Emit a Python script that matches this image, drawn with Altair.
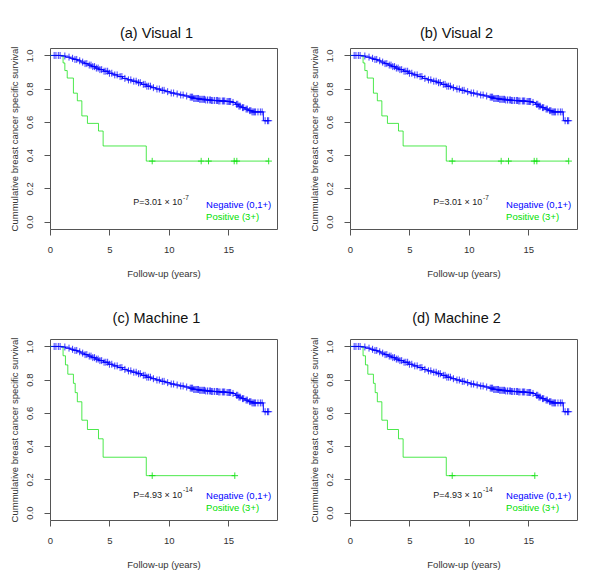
import altair as alt
import numpy as np
import pandas as pd

FONT = "Liberation Sans"
BLUE = "#0000ff"
GREEN = "#00e000"

panel_titles = ["(a) Visual 1", "(b) Visual 2", "(c) Machine 1", "(d) Machine 2"]
p_main = ["P=3.01 \u00d7 10", "P=3.01 \u00d7 10", "P=4.93 \u00d7 10", "P=4.93 \u00d7 10"]
p_exp = ["-7", "-7", "-14", "-14"]
p_y = [0.118, 0.118, 0.108, 0.108]
legend_labels = ["Negative (0,1+)", "Positive (3+)"]

# Negative (0,1+) group: event times and survival after each event
neg_times = [0.9, 1.3, 1.7, 2.0, 2.3, 2.6, 2.9, 3.2, 3.5, 3.8, 4.1, 4.5, 4.9, 5.3, 5.7,
             6.1, 6.5, 6.9, 7.3, 7.7, 8.1, 8.5, 8.9, 9.3, 9.7, 10.1, 10.5, 10.9, 11.3,
             11.7, 12.1, 12.6, 13.1, 13.6, 14.2, 14.8, 15.3, 15.6, 15.85, 16.1, 16.4,
             16.7, 17.0, 17.95]
neg_surv = [0.997, 0.990, 0.983, 0.976, 0.968, 0.960, 0.951, 0.942, 0.933, 0.924, 0.915,
            0.905, 0.893, 0.883, 0.873, 0.862, 0.853, 0.845, 0.836, 0.826, 0.815, 0.806,
            0.798, 0.790, 0.782, 0.774, 0.768, 0.762, 0.756, 0.749, 0.741, 0.736, 0.732,
            0.729, 0.726, 0.723, 0.717, 0.706, 0.695, 0.686, 0.677, 0.668, 0.660, 0.607]
neg_end = 18.4
neg_censor = [0.35, 0.5, 0.7, 0.85, 1.25, 1.6, 1.9, 2.1, 2.25, 2.5, 2.75, 2.95,
              3.1, 3.3, 3.45, 3.6, 3.75, 3.9, 4.05, 4.2, 4.35, 4.55, 4.7, 4.85, 5.0, 5.2,
              5.45, 5.65, 5.9, 6.05, 6.3, 6.6, 6.8, 7.05, 7.25, 7.45, 7.6, 7.85, 8.0,
              8.15, 8.3, 8.45, 8.7, 9.0, 9.2, 9.45, 9.6, 9.9, 10.2, 10.4, 10.7, 11.0,
              11.2, 11.5, 11.8, 11.9, 12.0, 12.1, 12.2, 12.3, 12.4, 12.5, 12.6, 12.7,
              12.8, 12.9, 13.0, 13.1, 13.25, 13.4, 13.5, 13.6, 13.7, 13.85, 14.0, 14.1,
              14.2, 14.3, 14.5, 14.6, 14.7, 14.9, 15.0, 15.1, 15.2, 15.4, 15.7, 15.8,
              15.9, 16.0, 16.2, 16.3, 16.5, 16.6, 16.8, 16.9, 17.0, 17.1, 17.2, 17.3,
              17.5, 17.7, 17.85, 18.1, 18.3, 18.4]

# Positive (3+) group, visual scoring (a, b)
posv_times = [1.1, 1.25, 1.45, 1.97, 2.3, 2.68, 3.15, 4.08, 4.47, 8.1]
posv_surv = [0.955, 0.909, 0.864, 0.773, 0.727, 0.636, 0.591, 0.545, 0.455, 0.364]
posv_end = 18.4
posv_censor = [8.6, 12.72, 13.34, 15.5, 15.72, 18.4]

# Positive (3+) group, machine scoring (c, d)
posm_times = [1.1, 1.3, 1.5, 1.97, 2.12, 2.3, 2.68, 3.15, 4.08, 4.47, 8.1]
posm_surv = [0.944, 0.889, 0.833, 0.778, 0.722, 0.667, 0.556, 0.5, 0.444, 0.333, 0.222]
posm_end = 15.55
posm_censor = [8.6, 15.55]


def km_line(times, surv, end):
    return pd.DataFrame({"t": [0.0] + times + [end], "s": [1.0] + surv + [surv[-1]]})


def censor_pts(times, surv, ctimes):
    idx = np.searchsorted(np.array(times), np.array(ctimes), side="right")
    s = [1.0 if i == 0 else surv[i - 1] for i in idx]
    return pd.DataFrame({"t": ctimes, "s": s})


x_scale = alt.Scale(domain=[0, 19.1], nice=False, zero=False)
y_scale = alt.Scale(domain=[-0.045, 1.045], nice=False, zero=False)

x_axis = alt.Axis(values=[0, 5, 10, 15], title="Follow-up (years)", grid=False, domain=False,
                  tickSize=6, tickColor="#555", labelPadding=9, labelFlush=False,
                  labelOverlap=False, labelFontSize=9.5, labelFont=FONT, labelColor="#333",
                  titleFontSize=9.5, titleFont=FONT, titleColor="#333",
                  titleFontWeight="normal", titlePadding=14.5)
y_axis = alt.Axis(values=[0, 0.2, 0.4, 0.6, 0.8, 1.0], format=".1f",
                  title="Cummulative breast cancer specific survival", grid=False,
                  domain=False, tickSize=6, tickColor="#555", labelAngle=270,
                  labelAlign="center", labelBaseline="bottom", labelPadding=9.5,
                  labelFlush=False, labelOverlap=False, labelFontSize=9.5, labelFont=FONT,
                  labelColor="#333", titleFontSize=9.5, titleFont=FONT, titleColor="#333",
                  titleFontWeight="normal", titlePadding=5.5)


def X():
    return alt.X("t:Q", scale=x_scale, axis=x_axis)


def Y():
    return alt.Y("s:Q", scale=y_scale, axis=y_axis)


PLUS = "M-1,0L1,0M0,-1L0,1"
title_offsets = [5, 5, 11, 11]


def panel(i):
    if i < 2:
        pt, ps, pe, pc = posv_times, posv_surv, posv_end, posv_censor
    else:
        pt, ps, pe, pc = posm_times, posm_surv, posm_end, posm_censor
    neg_line = alt.Chart(km_line(neg_times, neg_surv, neg_end)).mark_line(
        interpolate="step-after", color=BLUE, strokeWidth=1).encode(x=X(), y=Y())
    pos_line = alt.Chart(km_line(pt, ps, pe)).mark_line(
        interpolate="step-after", color=GREEN, strokeWidth=1, opacity=0.7).encode(x=X(), y=Y())
    neg_c = alt.Chart(censor_pts(neg_times, neg_surv, neg_censor)).mark_point(
        shape=PLUS, size=49, color=BLUE, filled=False, strokeWidth=1, opacity=0.75).encode(x=X(), y=Y())
    pos_c = alt.Chart(censor_pts(pt, ps, pc)).mark_point(
        shape=PLUS, size=42, color=GREEN, filled=False, strokeWidth=1, opacity=0.8).encode(x=X(), y=Y())
    ptxt = alt.Chart(pd.DataFrame({"t": [7.0], "s": [p_y[i]], "label": [p_main[i]]})).mark_text(
        align="left", baseline="middle", font=FONT, fontSize=9, color="#222").encode(
        x=X(), y=Y(), text="label:N")
    psup = alt.Chart(pd.DataFrame({"t": [11.2], "s": [p_y[i] + 0.026], "label": [p_exp[i]]})).mark_text(
        align="left", baseline="middle", font=FONT, fontSize=6.5, color="#222").encode(
        x=X(), y=Y(), text="label:N")
    leg = alt.Chart(pd.DataFrame({"t": [13.13, 13.13], "s": [0.102, 0.027],
                                  "label": legend_labels, "c": [BLUE, GREEN]})).mark_text(
        align="left", baseline="middle", font=FONT, fontSize=9.5).encode(
        x=X(), y=Y(), text="label:N", color=alt.Color("c:N", scale=None))
    return alt.layer(neg_line, pos_line, neg_c, pos_c, ptxt, psup, leg).properties(
        width=227, height=181,
        title=alt.TitleParams(panel_titles[i], font=FONT, fontSize=14.5, fontWeight="normal",
                              color="#111", dx=-7, offset=title_offsets[i]))


chart = alt.concat(*[panel(i) for i in range(4)], columns=2,
                   spacing=alt.RowColnumber(row=110, column=73), bounds="flush").properties(
    padding={"left": 0, "top": 17, "right": 5, "bottom": 5}
).configure_view(stroke="#555", strokeWidth=1)

chart.save("out.html", embed_options={"renderer": "svg", "actions": False})
